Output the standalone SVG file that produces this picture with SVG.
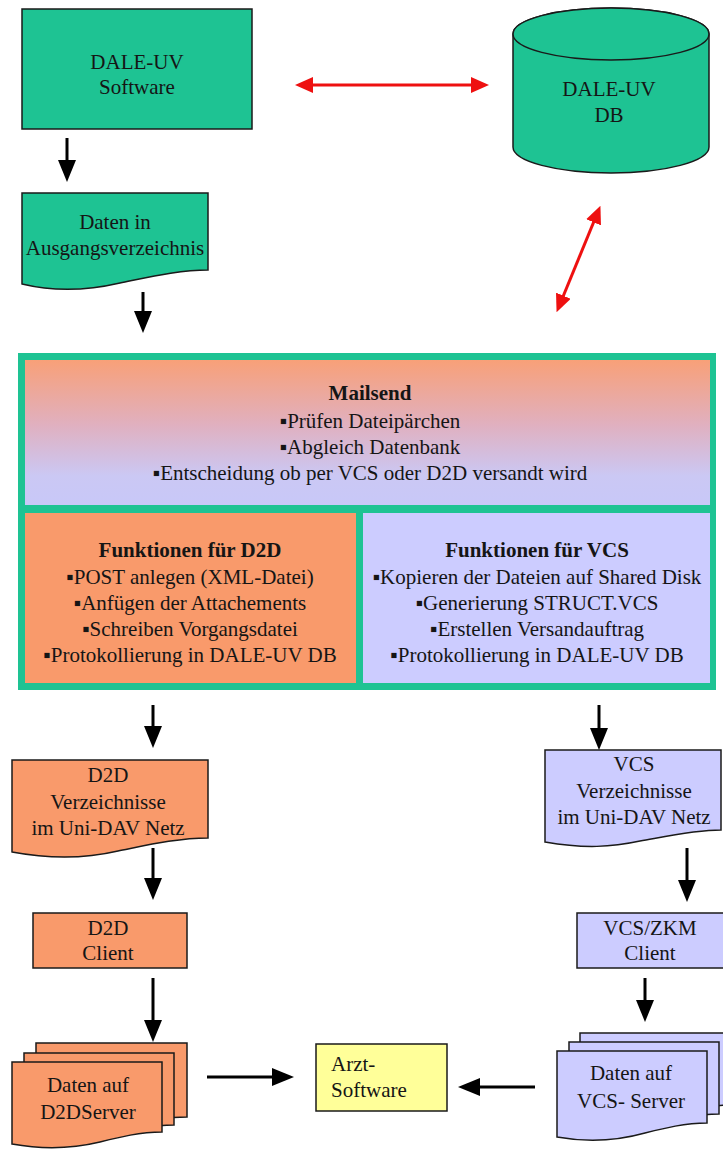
<svg xmlns="http://www.w3.org/2000/svg" width="723" height="1151" viewBox="0 0 723 1151">
<style>
text{font-family:"Liberation Serif","Times New Roman",serif;font-size:21px;fill:#151515;text-anchor:middle}
.b{font-weight:bold}
.l{text-anchor:start}
.sh{stroke:#1a1a1a;stroke-width:1.5}
.g{fill:#1ec393}
.o{fill:#f99a6b}
.v{fill:#ccccff}
.y{fill:#ffff99}
.ar{stroke:#000;stroke-width:3;fill:none}
.rd{stroke:#ee1010;stroke-width:3;fill:none}
</style>
<defs>
<marker id="ab" viewBox="0 0 22 18" refX="11" refY="9" markerWidth="22" markerHeight="18" markerUnits="userSpaceOnUse" orient="auto"><path d="M0,0 L22,9 L0,18 Z" fill="#000"/></marker>
<marker id="ar" viewBox="0 0 18 16" refX="9" refY="8" markerWidth="18" markerHeight="16" markerUnits="userSpaceOnUse" orient="auto-start-reverse"><path d="M0,0 L18,8 L0,16 Z" fill="#ee1010"/></marker>
<linearGradient id="mg" x1="0" y1="0" x2="0" y2="1"><stop offset="0" stop-color="#f8a078"/><stop offset="0.45" stop-color="#e0b0c0"/><stop offset="0.8" stop-color="#cbc8f4"/><stop offset="1" stop-color="#c8c8f8"/></linearGradient>
</defs>

<g id="connectors">
<line class="rd" x1="304" y1="85" x2="480" y2="85" marker-start="url(#ar)" marker-end="url(#ar)"/>
<line class="rd" x1="597" y1="214" x2="560" y2="304" marker-start="url(#ar)" marker-end="url(#ar)"/>
<line class="ar" x1="67" y1="138" x2="67" y2="171" marker-end="url(#ab)"/>
<line class="ar" x1="143" y1="292" x2="143" y2="322" marker-end="url(#ab)"/>
<line class="ar" x1="153" y1="705" x2="153" y2="737" marker-end="url(#ab)"/>
<line class="ar" x1="599" y1="705" x2="599" y2="739" marker-end="url(#ab)"/>
<line class="ar" x1="153" y1="848" x2="153" y2="889" marker-end="url(#ab)"/>
<line class="ar" x1="687" y1="848" x2="687" y2="891" marker-end="url(#ab)"/>
<line class="ar" x1="153" y1="978" x2="153" y2="1031" marker-end="url(#ab)"/>
<line class="ar" x1="645" y1="978" x2="645" y2="1011" marker-end="url(#ab)"/>
<line class="ar" x1="207" y1="1077" x2="283" y2="1077" marker-end="url(#ab)"/>
<line class="ar" x1="535" y1="1087" x2="469" y2="1087" marker-end="url(#ab)"/>
</g>

<g id="software">
<rect class="g sh" x="22" y="9" width="230" height="120"/>
<text x="137" y="69">DALE-UV</text>
<text x="137" y="94">Software</text>
</g>

<g id="db">
<path class="g sh" d="M513,34 V147 A98,26 0 0 0 709,147 V34 A98,26 0 0 0 513,34 Z"/>
<ellipse class="g sh" cx="611" cy="34" rx="98" ry="26"/>
<text x="609" y="96">DALE-UV</text>
<text x="609" y="122">DB</text>
</g>

<g id="ausgang">
<path class="g sh" d="M22,193 H208 V270 C180,270 150,277 120,283 C90,290 55,292 22,284 Z"/>
<text x="115" y="229">Daten in</text>
<text x="115" y="255">Ausgangsverzeichnis</text>
</g>

<g id="mailsend">
<rect x="18" y="353" width="698" height="337" fill="#1ec393"/>
<rect x="25" y="360" width="685" height="145" fill="url(#mg)"/>
<text class="b" x="370" y="400">Mailsend</text>
<text x="370" y="428">▪Prüfen Dateipärchen</text>
<text x="370" y="454">▪Abgleich Datenbank</text>
<text x="370" y="480">▪Entscheidung ob per VCS oder D2D versandt wird</text>
</g>

<g id="d2d-funktionen">
<rect class="o" x="25" y="513" width="331" height="170"/>
<text class="b" x="190" y="557">Funktionen für D2D</text>
<text x="190" y="584">▪POST anlegen (XML-Datei)</text>
<text x="190" y="610">▪Anfügen der Attachements</text>
<text x="190" y="636">▪Schreiben Vorgangsdatei</text>
<text x="190" y="662">▪Protokollierung in DALE-UV DB</text>
</g>

<g id="vcs-funktionen">
<rect class="v" x="363" y="513" width="347" height="170"/>
<text class="b" x="537" y="557">Funktionen für VCS</text>
<text x="537" y="584">▪Kopieren der Dateien auf Shared Disk</text>
<text x="537" y="610">▪Generierung STRUCT.VCS</text>
<text x="537" y="636">▪Erstellen Versandauftrag</text>
<text x="537" y="662">▪Protokollierung in DALE-UV DB</text>
</g>

<g id="d2d-verz">
<path class="o sh" d="M12,760 H208 V838 C178,838 148,845 118,851 C88,858 55,860 12,852 Z"/>
<text x="108" y="782">D2D</text>
<text x="108" y="809">Verzeichnisse</text>
<text x="108" y="835">im Uni-DAV Netz</text>
</g>

<g id="vcs-verz">
<path class="v sh" d="M545,750 H721 V830 C695,830 668,836 640,841 C612,847 585,849 545,842 Z"/>
<text x="634" y="771">VCS</text>
<text x="634" y="798">Verzeichnisse</text>
<text x="634" y="824">im Uni-DAV Netz</text>
</g>

<g id="d2d-client">
<rect class="o sh" x="33" y="913" width="154" height="55"/>
<text x="108" y="935">D2D</text>
<text x="108" y="960">Client</text>
</g>

<g id="vcs-client">
<rect class="v sh" x="577" y="913" width="150" height="55"/>
<text x="650" y="935">VCS/ZKM</text>
<text x="650" y="960">Client</text>
</g>

<g id="d2d-server">
<path class="o sh" d="M36,1043 H187 V1117 C165,1117 145,1121 125,1126 C100,1132 70,1134 36,1128 Z"/>
<path class="o sh" d="M24,1053 H174 V1125 C152,1125 132,1130 112,1135 C87,1141 57,1143 24,1137 Z"/>
<path class="o sh" d="M12,1062 H162 V1132 C140,1132 120,1137 100,1142 C75,1148 45,1150 12,1144 Z"/>
<text x="88" y="1092">Daten auf</text>
<text x="88" y="1119">D2DServer</text>
</g>

<g id="arzt">
<rect class="y sh" x="316" y="1044" width="131" height="67"/>
<text class="l" x="331" y="1071">Arzt-</text>
<text class="l" x="331" y="1097">Software</text>
</g>

<g id="vcs-server">
<path class="v sh" d="M580,1033 H731 V1105 C709,1105 689,1110 669,1115 C644,1121 614,1123 580,1117 Z"/>
<path class="v sh" d="M569,1042 H719 V1114 C697,1114 677,1119 657,1124 C632,1130 602,1132 569,1126 Z"/>
<path class="v sh" d="M557,1051 H707 V1123 C685,1123 665,1128 645,1133 C620,1140 590,1143 557,1137 Z"/>
<text x="631" y="1080">Daten auf</text>
<text x="631" y="1108">VCS- Server</text>
</g>
</svg>
